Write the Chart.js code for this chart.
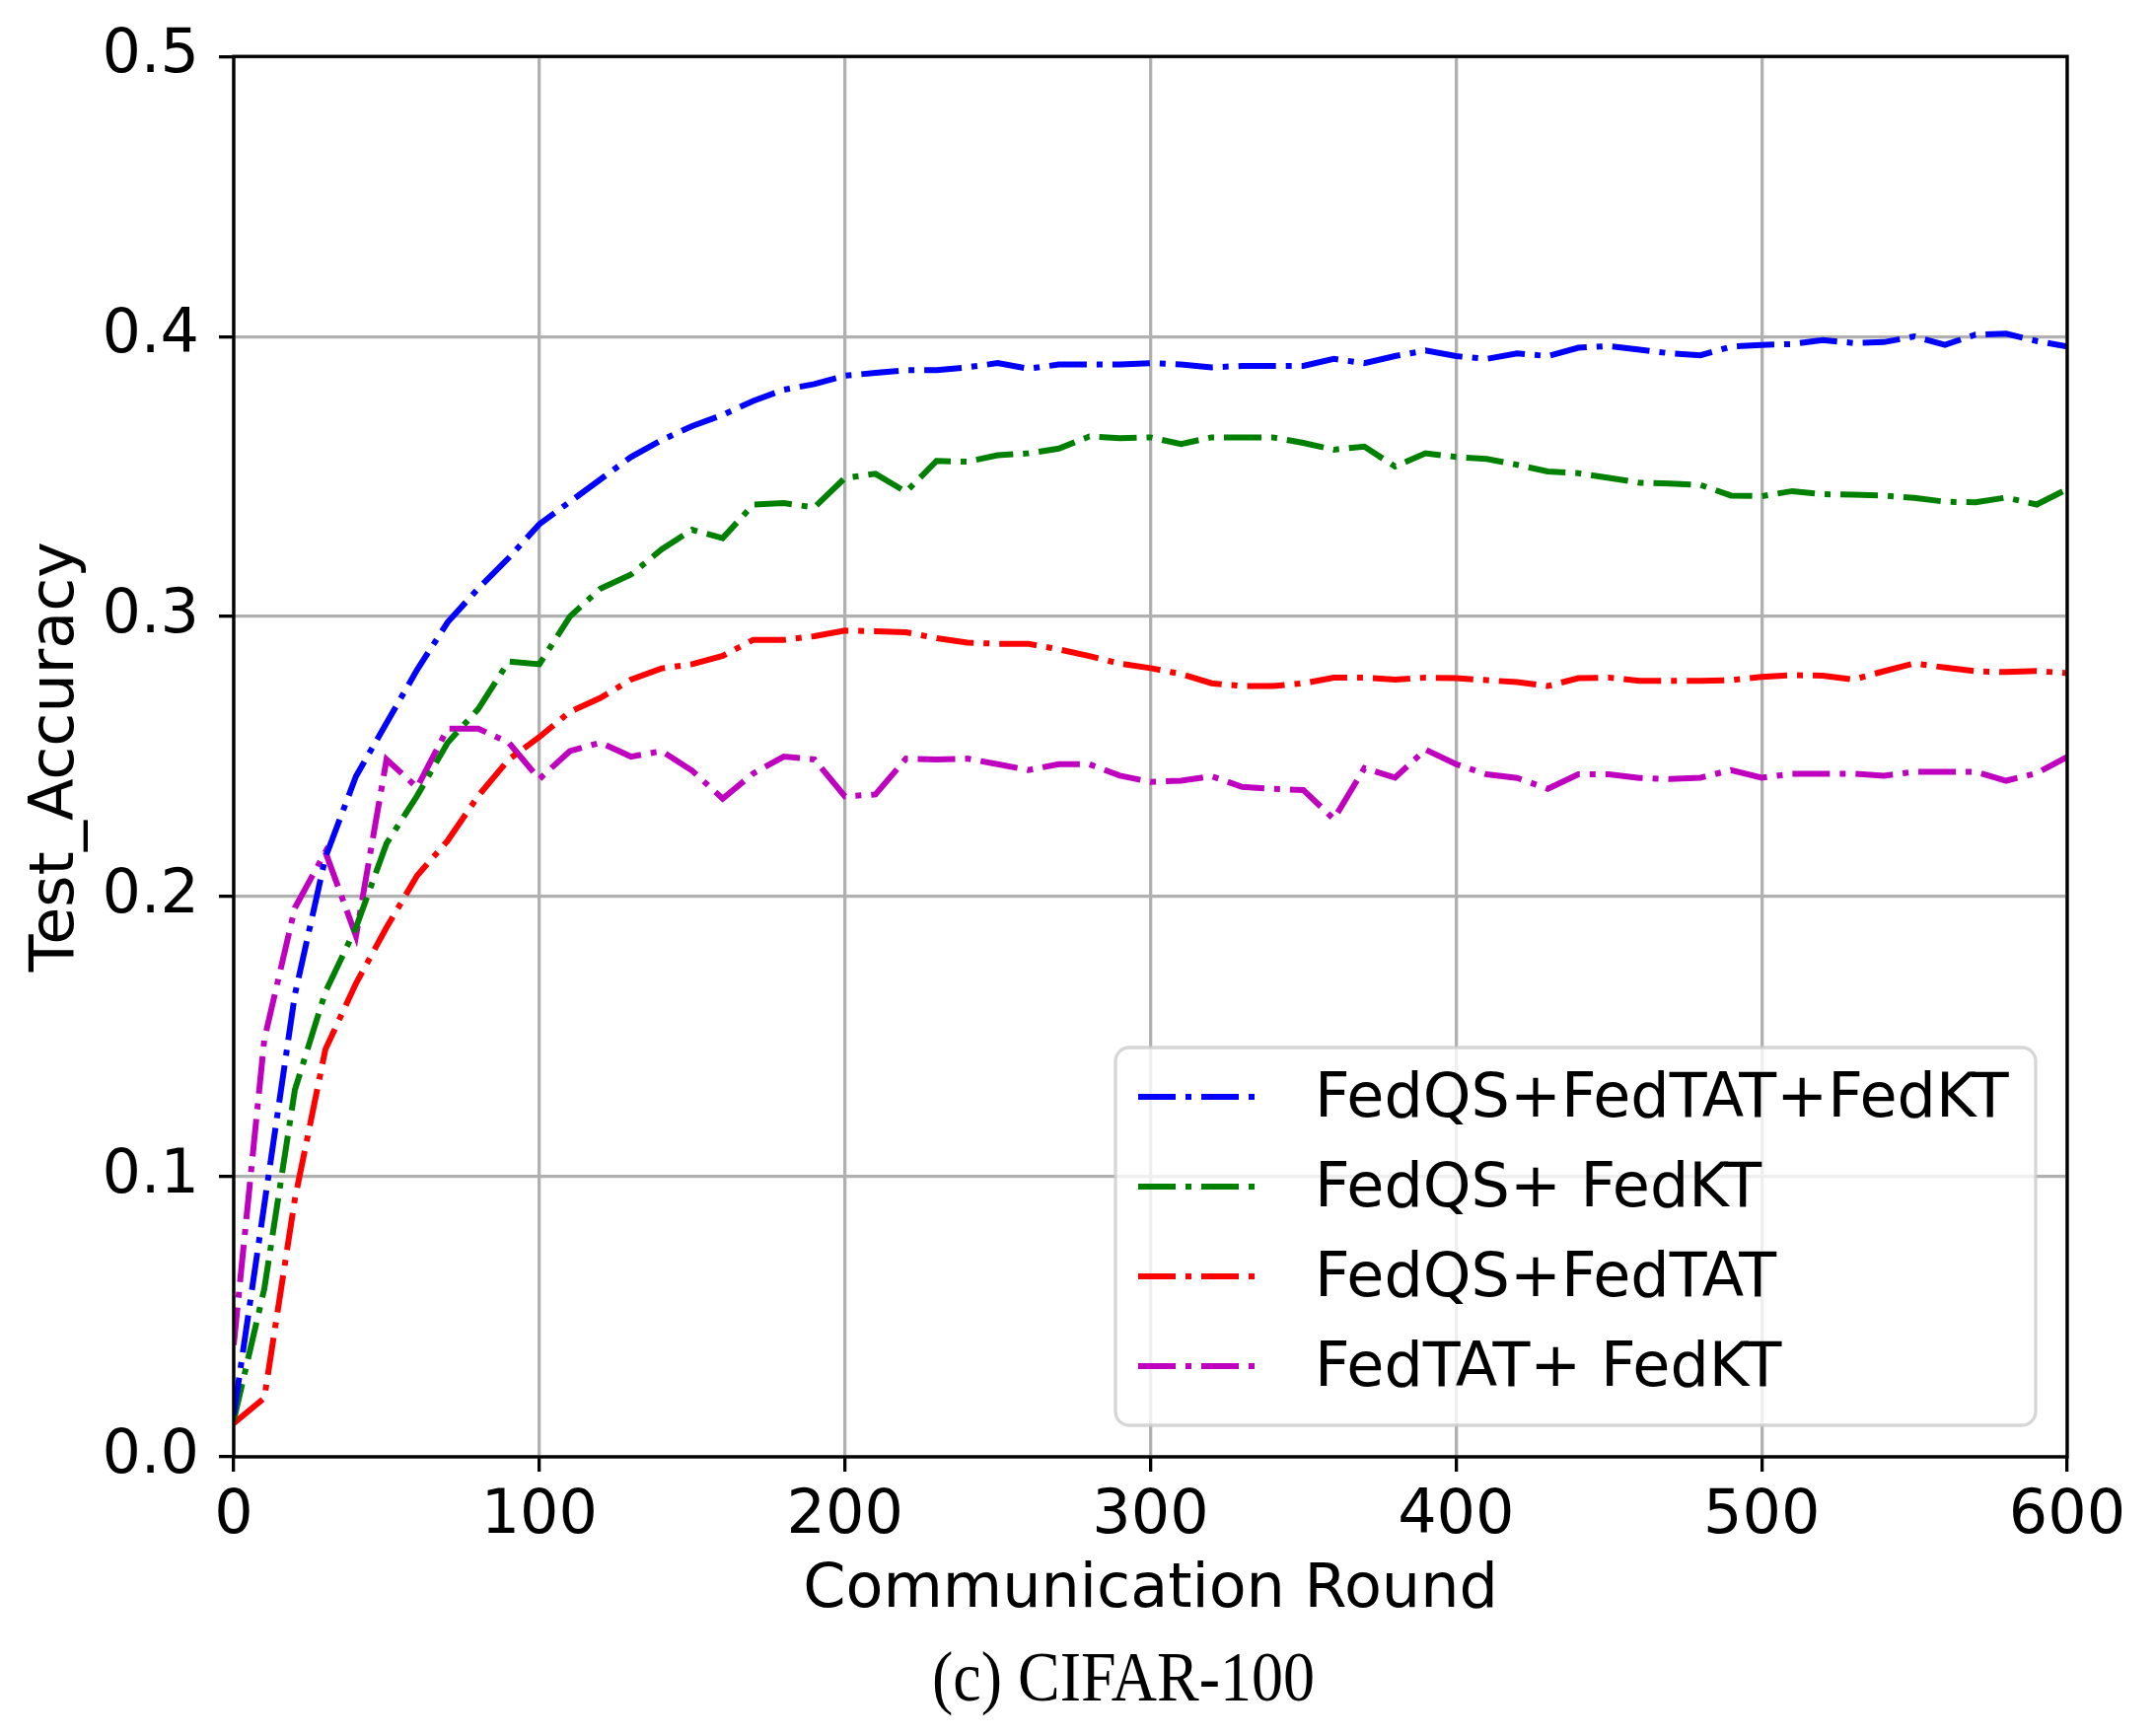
<!DOCTYPE html>
<html>
<head>
<meta charset="utf-8">
<title>Test accuracy - CIFAR-100</title>
<script src="https://cdn.jsdelivr.net/npm/chart.js@4.4.1/dist/chart.umd.min.js"></script>
<style>
  html, body { margin: 0; padding: 0; background: #fff; }
  #wrap { position: relative; width: 2185px; height: 1760px; }
  #caption {
    position: absolute; left: 1139px; top: 1700px;
    transform: translate(-50%, -50%) scaleY(1.12);
    font-family: "Liberation Serif", serif; font-size: 64px;
    line-height: 1; white-space: pre; color: #000;
  }
</style>
</head>
<body>
<div id="wrap">
  <canvas id="acc-chart" width="2185" height="1760"></canvas>
  <div id="caption">(c) CIFAR-100</div>
</div>
<script>
// communication rounds (every 10 rounds)
var rounds = [0, 10, 20, 30, 40, 50, 60, 70, 80, 90, 100, 110, 120, 130, 140, 150, 160, 170, 180, 190,
    200, 210, 220, 230, 240, 250, 260, 270, 280, 290, 300, 310, 320, 330, 340, 350, 360, 370, 380, 390,
    400, 410, 420, 430, 440, 450, 460, 470, 480, 490, 500, 510, 520, 530, 540, 550, 560, 570, 580, 590, 600];

var fedQsTatKt = [0.015, 0.090, 0.165, 0.214, 0.243, 0.262, 0.281, 0.298, 0.310, 0.321,
    0.333, 0.341, 0.349, 0.357, 0.363, 0.368, 0.372, 0.377, 0.381, 0.383,
    0.386, 0.387, 0.388, 0.388, 0.389, 0.3905, 0.3885, 0.390, 0.390, 0.390,
    0.3905, 0.390, 0.389, 0.3895, 0.3895, 0.3895, 0.392, 0.3905, 0.393, 0.395,
    0.393, 0.392, 0.394, 0.393, 0.396, 0.3966, 0.3953, 0.394, 0.3933, 0.3964,
    0.397, 0.3973, 0.3987, 0.3977, 0.398, 0.400, 0.397, 0.4007, 0.401, 0.3984, 0.3964];

var fedQsKt = [0.013, 0.060, 0.131, 0.166, 0.189, 0.219, 0.236, 0.255, 0.267, 0.284,
    0.283, 0.300, 0.310, 0.315, 0.324, 0.331, 0.328, 0.340, 0.3405, 0.339,
    0.3495, 0.351, 0.3445, 0.3556, 0.3553, 0.3576, 0.3583, 0.360, 0.3643, 0.3637,
    0.364, 0.3616, 0.364, 0.364, 0.364, 0.362, 0.3596, 0.3607, 0.3536, 0.3583,
    0.357, 0.3563, 0.3542, 0.3518, 0.3512, 0.3495, 0.3478, 0.3475, 0.347, 0.3432,
    0.343, 0.3448, 0.3437, 0.3435, 0.3432, 0.3424, 0.341, 0.3408, 0.3425, 0.340, 0.3455];

var fedQsTat = [0.012, 0.021, 0.092, 0.1455, 0.169, 0.189, 0.2075, 0.220, 0.236, 0.249,
    0.257, 0.266, 0.271, 0.2775, 0.2815, 0.283, 0.286, 0.2917, 0.2917, 0.293,
    0.295, 0.2948, 0.2944, 0.2923, 0.2907, 0.2903, 0.2903, 0.2883, 0.2859, 0.2832,
    0.2816, 0.2795, 0.2762, 0.2752, 0.2752, 0.2762, 0.2782, 0.2782, 0.2775, 0.2782,
    0.278, 0.2773, 0.2766, 0.2752, 0.278, 0.2782, 0.2771, 0.2771, 0.2771, 0.2773,
    0.2785, 0.2791, 0.2789, 0.2775, 0.2805, 0.2833, 0.2818, 0.2805, 0.2802, 0.2806, 0.2798];

var fedTatKt = [0.040, 0.149, 0.196, 0.216, 0.186, 0.249, 0.239, 0.260, 0.260, 0.255,
    0.242, 0.252, 0.255, 0.250, 0.252, 0.245, 0.235, 0.244, 0.250, 0.249,
    0.2358, 0.2365, 0.2493, 0.249, 0.2493, 0.2473, 0.2452, 0.2473, 0.2473, 0.2432,
    0.241, 0.2414, 0.243, 0.2392, 0.2385, 0.2381, 0.2277, 0.2459, 0.2425, 0.2525,
    0.2473, 0.2437, 0.2424, 0.2385, 0.2437, 0.2437, 0.2424, 0.242, 0.2425, 0.2452,
    0.2425, 0.2439, 0.2439, 0.2439, 0.2432, 0.2446, 0.2446, 0.2446, 0.2414, 0.2441, 0.2499];

var seriesNames = ["FedQS+FedTAT+FedKT", "FedQS+ FedKT", "FedQS+FedTAT", "FedTAT+ FedKT"];
var seriesColors = ["#0000ff", "#008000", "#ff0000", "#bf00bf"];

var xTickValues = [0, 100, 200, 300, 400, 500, 600];
var yTickValues = [0.0, 0.1, 0.2, 0.3, 0.4, 0.5];
var yTickLabels = ["0.0", "0.1", "0.2", "0.3", "0.4", "0.5"];

var FONT = '"DejaVu Sans", sans-serif';
var FONT_SIZE = 62;
var LINE_W = 6;
var DASH_DOT = [38, 10, 6, 10];

function toPoints(values) {
    return rounds.map(function (r, i) {
        return { x: r, y: values[i] };
    });
}

var allSeries = [fedQsTatKt, fedQsKt, fedQsTat, fedTatKt];
var datasets = allSeries.map(function (values, i) {
    return {
        label: seriesNames[i],
        data: toPoints(values),
        borderColor: seriesColors[i],
        backgroundColor: seriesColors[i],
        borderWidth: LINE_W,
        borderDash: DASH_DOT,
        borderCapStyle: 'butt',
        borderJoinStyle: 'miter',
        pointRadius: 0,
        tension: 0,
        fill: false
    };
});

// black box around the plot area (matplotlib spines)
var framePlugin = {
    id: 'frame',
    afterDatasetsDraw: function (chart) {
        var a = chart.chartArea, ctx = chart.ctx;
        ctx.save();
        ctx.strokeStyle = '#000';
        ctx.lineWidth = 3.3;
        ctx.setLineDash([]);
        ctx.strokeRect(a.left, a.top, a.right - a.left, a.bottom - a.top);
        ctx.restore();
    }
};

// legend box in the lower right, drawn like matplotlib's
var legendPlugin = {
    id: 'boxLegend',
    afterDraw: function (chart) {
        var ctx = chart.ctx;
        var bx = 1131, by = 1062, bw = 933, bh = 383, r = 14;
        ctx.save();
        ctx.beginPath();
        ctx.moveTo(bx + r, by);
        ctx.arcTo(bx + bw, by, bx + bw, by + bh, r);
        ctx.arcTo(bx + bw, by + bh, bx, by + bh, r);
        ctx.arcTo(bx, by + bh, bx, by, r);
        ctx.arcTo(bx, by, bx + bw, by, r);
        ctx.closePath();
        ctx.fillStyle = 'rgba(255,255,255,0.8)';
        ctx.fill();
        ctx.strokeStyle = 'rgba(204,204,204,0.8)';
        ctx.lineWidth = 3.3;
        ctx.stroke();

        chart.data.datasets.forEach(function (ds, i) {
            var y = 1112 + i * 91;
            ctx.beginPath();
            ctx.setLineDash(ds.borderDash);
            ctx.lineCap = 'butt';
            ctx.lineWidth = ds.borderWidth;
            ctx.strokeStyle = ds.borderColor;
            ctx.moveTo(1154, y);
            ctx.lineTo(1277, y);
            ctx.stroke();
            ctx.setLineDash([]);
            ctx.fillStyle = '#000';
            ctx.font = FONT_SIZE + 'px ' + FONT;
            ctx.textAlign = 'left';
            ctx.textBaseline = 'middle';
            ctx.fillText(ds.label, 1333, y + 4);
        });
        ctx.restore();
    }
};

var gridOpts = {
    color: '#b0b0b0',
    lineWidth: 3.3,
    drawTicks: true,
    tickLength: 15,
    tickColor: '#000',
    tickWidth: 3.3
};

var chart = new Chart(document.getElementById('acc-chart'), {
    type: 'line',
    data: { datasets: datasets },
    plugins: [framePlugin, legendPlugin],
    options: {
        responsive: false,
        animation: false,
        layout: { padding: { left: 0, top: 53, right: 89, bottom: 110 } },
        plugins: {
            legend: { display: false },
            tooltip: { enabled: false }
        },
        scales: {
            x: {
                type: 'linear',
                min: 0,
                max: 600,
                afterBuildTicks: function (scale) {
                    scale.ticks = xTickValues.map(function (v) { return { value: v }; });
                },
                afterFit: function (scale) { scale.height = 173; },
                ticks: {
                    color: '#000',
                    font: { family: FONT, size: FONT_SIZE },
                    padding: 9,
                    maxRotation: 0,
                    callback: function (v) { return String(v); }
                },
                grid: gridOpts,
                border: { display: false },
                title: {
                    display: true,
                    text: 'Communication Round',
                    color: '#000',
                    font: { family: FONT, size: FONT_SIZE },
                    padding: { top: 0, bottom: 0 }
                }
            },
            y: {
                type: 'linear',
                min: 0,
                max: 0.5,
                afterBuildTicks: function (scale) {
                    scale.ticks = yTickValues.map(function (v) { return { value: v }; });
                },
                afterFit: function (scale) { scale.width = 237; },
                ticks: {
                    color: '#000',
                    font: { family: FONT, size: FONT_SIZE },
                    padding: 20,
                    callback: function (v) {
                        var idx = yTickValues.indexOf(v);
                        return idx >= 0 ? yTickLabels[idx] : '';
                    }
                },
                grid: gridOpts,
                border: { display: false },
                title: {
                    display: true,
                    text: 'Test_Accuracy',
                    color: '#000',
                    font: { family: FONT, size: FONT_SIZE },
                    padding: { top: 21, bottom: 0 }
                }
            }
        }
    }
});
</script>
</body>
</html>
